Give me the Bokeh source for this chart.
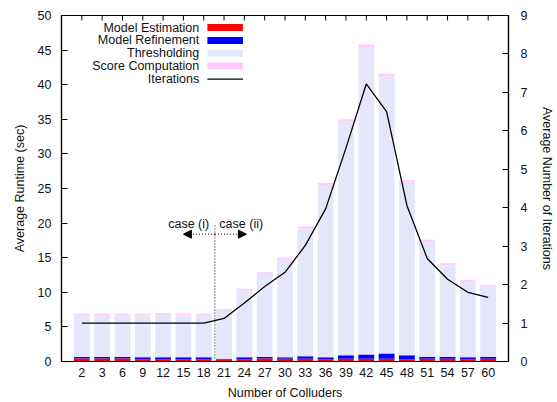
import math

from bokeh.plotting import figure
from bokeh.models import (Range1d, LinearAxis, FixedTicker, Label, Arrow,
                          NormalHead, ColumnDataSource)
from bokeh.embed import file_html
from bokeh.resources import INLINE

# Number of colluders (x categories)
colluders = ["2", "3", "6", "9", "12", "15", "18", "21", "24", "27", "30",
             "33", "36", "39", "42", "45", "48", "51", "54", "57", "60"]

# Runtime components in seconds, stacked bottom to top
model_estimation = [0.45, 0.45, 0.45, 0.30, 0.30, 0.30, 0.30, 0.30, 0.30, 0.45, 0.40,
                    0.40, 0.30, 0.40, 0.40, 0.40, 0.30, 0.40, 0.40, 0.30, 0.40]
model_refinement = [0.20, 0.20, 0.20, 0.30, 0.30, 0.30, 0.30, 0.10, 0.30, 0.20, 0.20,
                    0.35, 0.30, 0.50, 0.60, 0.75, 0.60, 0.30, 0.30, 0.30, 0.30]
thresholding = [6.00, 6.00, 6.00, 6.05, 6.15, 6.05, 6.05, 6.95, 9.65, 12.00, 14.10,
                18.45, 24.85, 33.75, 44.40, 40.05, 24.95, 16.60, 13.20, 10.95, 10.15]
score_computation = [0.25, 0.25, 0.25, 0.25, 0.25, 0.25, 0.25, 0.25, 0.25, 0.25, 0.30,
                     0.30, 0.35, 0.35, 0.40, 0.40, 0.35, 0.30, 0.30, 0.25, 0.25]

# Average number of iterations (right axis)
iterations = [1.0, 1.0, 1.0, 1.0, 1.0, 1.0, 1.0, 1.12, 1.52, 1.95, 2.32,
              3.02, 3.97, 5.55, 7.22, 6.50, 4.06, 2.68, 2.14, 1.80, 1.67]

runtime_ticks = [0, 5, 10, 15, 20, 25, 30, 35, 40, 45, 50]
iteration_ticks = [0, 1, 2, 3, 4, 5, 6, 7, 8, 9]

series_names = ["Model Estimation", "Model Refinement", "Thresholding", "Score Computation"]
series_colors = ["#ff0000", "#0000ff", "#e6e6fa", "#ffccff"]

FONT = "Liberation Sans"
FS = "12.5px"
Y_MAX = 50

xs = list(range(len(colluders)))
src = ColumnDataSource(dict(
    x=xs, est=model_estimation, ref=model_refinement, thr=thresholding,
    score=score_computation, iters=iterations,
))

p = figure(width=557, height=402, x_range=Range1d(-1, len(colluders)),
           y_range=Range1d(0, Y_MAX), output_backend="svg", toolbar_location=None,
           min_border_left=61, min_border_right=44, min_border_top=15,
           min_border_bottom=38)
p.xgrid.visible = False
p.ygrid.visible = False
p.outline_line_color = "black"
p.outline_line_width = 1.2
p.background_fill_color = "white"
p.border_fill_color = "white"

# Stacked runtime bars
p.vbar_stack(["est", "ref", "thr", "score"], x="x", width=0.78, source=src,
             fill_color=series_colors, line_color=series_colors, line_width=0)

# Iterations line on secondary axis
p.extra_y_ranges = {"iter": Range1d(0, 9)}
p.line("x", "iters", source=src, y_range_name="iter", line_color="black",
       line_width=1.3)

# Mirrored x tics along the top border, pointing inward
p.ray(x=xs, y=[Y_MAX] * len(xs), length=5, length_units="screen",
      angle=-math.pi / 2, line_color="black", line_width=1)

# Axes styling
def style_axis(ax):
    ax.axis_line_color = "black"
    ax.axis_line_width = 1.2
    ax.major_tick_line_color = "black"
    ax.major_tick_in = 6
    ax.major_tick_out = 0
    ax.minor_tick_in = 0
    ax.minor_tick_out = 0
    ax.major_label_text_font = FONT
    ax.major_label_text_font_size = FS
    ax.major_label_text_color = "#111111"
    ax.axis_label_text_font = FONT
    ax.axis_label_text_font_size = FS
    ax.axis_label_text_font_style = "normal"
    ax.axis_label_text_color = "#111111"

xax = p.xaxis[0]
style_axis(xax)
xax.ticker = FixedTicker(ticks=xs)
xax.major_label_overrides = {i: c for i, c in zip(xs, colluders)}
xax.major_tick_in = 0
xax.major_label_standoff = 6
xax.axis_label = "Number of Colluders"
xax.axis_label_standoff = 6

yax = p.yaxis[0]
style_axis(yax)
yax.ticker = FixedTicker(ticks=runtime_ticks)
yax.major_label_standoff = 10
yax.axis_label = "Average Runtime (sec)"
yax.axis_label_standoff = 8

rax = LinearAxis(y_range_name="iter", ticker=FixedTicker(ticks=iteration_ticks))
style_axis(rax)
rax.major_label_standoff = 12
rax.axis_label = "Average Number of Iterations"
rax.axis_label_standoff = 10
p.add_layout(rax, "right")

# Case boundary marker between 18 and 21 colluders
split_x = 6.55
p.segment(x0=[split_x], y0=[0], x1=[split_x], y1=[19.8], line_color="black",
          line_width=1, line_dash="1 2")
for x_end in (5.0, 8.1):
    p.add_layout(Arrow(x_start=split_x, y_start=18.4, x_end=x_end, y_end=18.4,
                       line_color="black", line_width=1, line_dash="1 2",
                       end=NormalHead(size=8, fill_color="black",
                                      line_color="black", line_width=1)))
p.add_layout(Label(x=split_x - 0.28, y=19.9, text="case (i)", text_align="right",
                   text_baseline="middle", text_font=FONT, text_font_size=FS,
                   text_color="#111111"))
p.add_layout(Label(x=split_x + 0.22, y=19.9, text="case (ii)", text_align="left",
                   text_baseline="middle", text_font=FONT, text_font_size=FS,
                   text_color="#111111"))

# Legend: label on the left, swatch on the right
legend_rows = [48.25, 46.4, 44.55, 42.7, 40.8]
legend_text_x = 5.78
sw_x0, sw_x1 = 6.18, 7.93
for name, color, y in zip(series_names, series_colors, legend_rows):
    p.add_layout(Label(x=legend_text_x, y=y, text=name, text_align="right",
                       text_baseline="middle", text_font=FONT, text_font_size=FS,
                       text_color="#111111"))
    p.rect(x=[(sw_x0 + sw_x1) / 2], y=[y], width=sw_x1 - sw_x0, height=7,
           height_units="screen", fill_color=color, line_color=None)
p.add_layout(Label(x=legend_text_x, y=legend_rows[4], text="Iterations",
                   text_align="right", text_baseline="middle", text_font=FONT,
                   text_font_size=FS, text_color="#111111"))
p.segment(x0=[sw_x0], y0=[legend_rows[4]], x1=[sw_x1], y1=[legend_rows[4]],
          line_color="black", line_width=1.3)

open("out.html", "w").write(file_html(p, INLINE))
